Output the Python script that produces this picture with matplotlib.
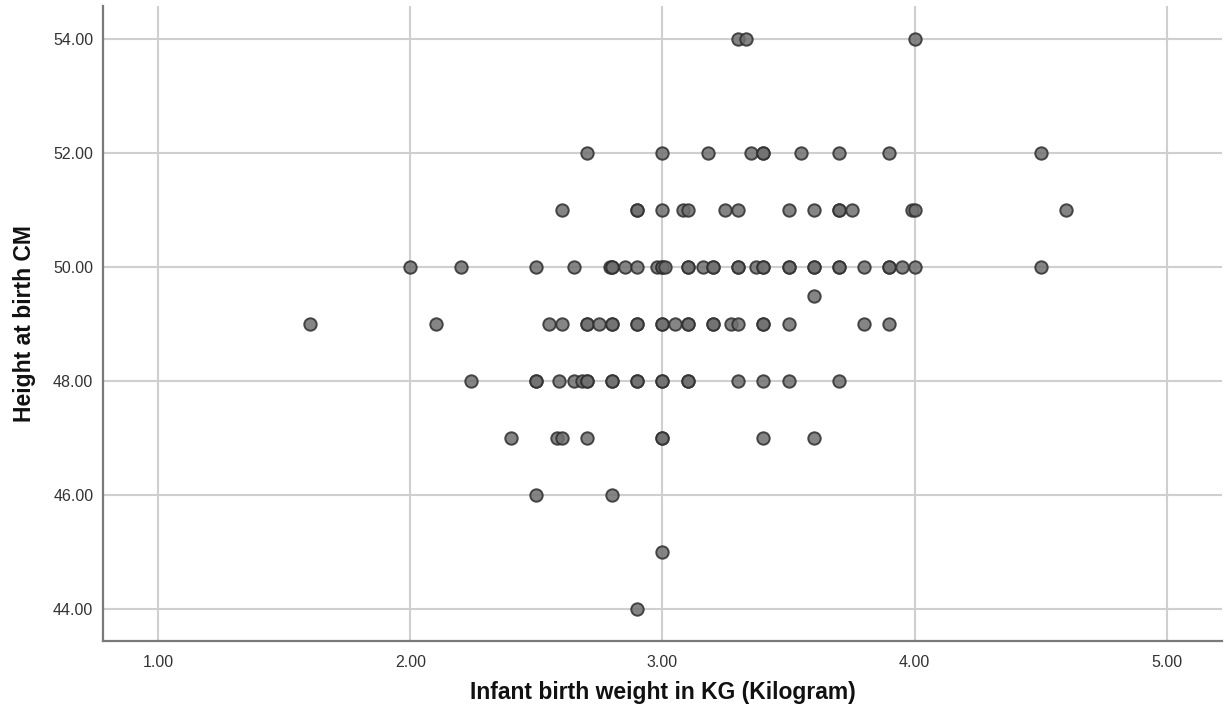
import matplotlib
matplotlib.use("Agg")
import matplotlib.pyplot as plt
import numpy as np

# birth weight (kg) and height (cm)
weight = [
    3.30, 3.33, 4.00,                                                   # 54
    2.70, 3.00, 3.18, 3.35, 3.40, 3.40, 3.55, 3.70, 3.90, 4.50,         # 52
    2.60, 2.90, 2.90, 3.00, 3.08, 3.10, 3.25, 3.30, 3.50, 3.60, 3.70,
    3.70, 3.75, 3.99, 4.00, 4.60,                                       # 51
    2.00, 2.20, 2.50, 2.65, 2.79, 2.80, 2.80, 2.85, 2.90, 2.98, 3.00,
    3.00, 3.01, 3.10, 3.10, 3.16, 3.20, 3.20, 3.30, 3.30, 3.37, 3.40,
    3.40, 3.50, 3.50, 3.60, 3.60, 3.70, 3.70, 3.80, 3.90, 3.90, 3.95,
    4.00, 4.50,                                                         # 50
    3.60,                                                               # 49.5
    1.60, 2.10, 2.55, 2.60, 2.70, 2.70, 2.75, 2.80, 2.80, 2.90, 2.90,
    3.00, 3.00, 3.05, 3.10, 3.10, 3.20, 3.20, 3.27, 3.30, 3.40, 3.40,
    3.50, 3.80, 3.90,                                                   # 49
    2.24, 2.50, 2.50, 2.59, 2.65, 2.68, 2.70, 2.70, 2.80, 2.80, 2.90,
    2.90, 3.00, 3.00, 3.10, 3.10, 3.30, 3.40, 3.50, 3.70,               # 48
    2.40, 2.58, 2.60, 2.70, 3.00, 3.00, 3.40, 3.60,                     # 47
    2.50, 2.80,                                                         # 46
    3.00,                                                               # 45
    2.90,                                                               # 44
]
height = (
    [54] * 3 + [52] * 10 + [51] * 16 + [50] * 35 + [49.5] * 1
    + [49] * 25 + [48] * 20 + [47] * 8 + [46] * 2 + [45] + [44]
)

x_ticks = [1, 2, 3, 4, 5]
y_ticks = [44, 46, 48, 50, 52, 54]

plt.rcParams['font.family'] = ['Liberation Sans', 'DejaVu Sans']

fig = plt.figure(figsize=(12.29, 7.19), dpi=100)
ax = fig.add_axes([0.0838, 0.1085, 0.9105, 0.883])

ax.scatter(weight, height, s=80, facecolor="#707070", edgecolor="#2e2e2e",
           linewidth=1.4, alpha=0.85, zorder=3)

ax.set_xlim(0.78, 5.22)
ax.set_ylim(43.44, 54.58)
ax.set_xticks(x_ticks)
ax.set_yticks(y_ticks)
ax.set_xticklabels(["%.2f" % v for v in x_ticks])
ax.set_yticklabels(["%.2f" % v for v in y_ticks])

ax.grid(True, color="#cfcfcf", linewidth=1.5, zorder=0)
ax.set_axisbelow(True)
for side in ["top", "right"]:
    ax.spines[side].set_visible(False)
for side in ["left", "bottom"]:
    ax.spines[side].set_color("#7a7a7a")
    ax.spines[side].set_linewidth(1.6)

ax.tick_params(length=0, labelsize=11.5, labelcolor="#333333")
ax.tick_params(axis="x", pad=10)
ax.tick_params(axis="y", pad=7)

ax.set_xlabel("Infant birth weight in KG (Kilogram)", fontsize=16.5,
              fontweight="bold", color="#111111", labelpad=8)
ax.set_ylabel("Height at birth CM", fontsize=16.5,
              fontweight="bold", color="#111111", labelpad=12)

fig.savefig("out.png", dpi=100, facecolor="white")
